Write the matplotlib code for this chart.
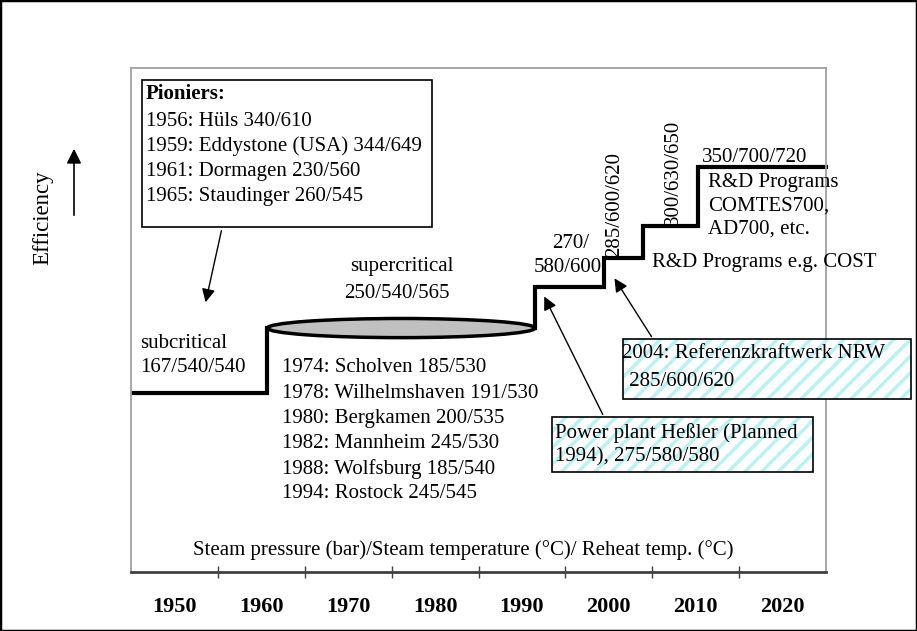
import matplotlib.pyplot as plt
from matplotlib.patches import Ellipse, Rectangle

plt.rcParams['font.family'] = ['Liberation Serif', 'DejaVu Serif']
plt.rcParams['hatch.linewidth'] = 2.5

# Stufen der Wirkungsgrad-Kurve (Jahr des Sprungs, Niveau in willk. Einheiten)
step_years = [1945, 1960.7, 1991.5, 1999.4, 2003.9, 2010.3, 2025]
levels = [35.5, 48.4, 56.5, 62.3, 68.7, 80.4]

decade_labels = [1950, 1960, 1970, 1980, 1990, 2000, 2010, 2020]
tick_years = [1955, 1965, 1975, 1985, 1995, 2005, 2015]

pioniers = ['1956: Hüls 340/610',
            '1959: Eddystone (USA) 344/649',
            '1961: Dormagen 230/560',
            '1965: Staudinger 260/545']
supercritical_plants = ['1974: Scholven 185/530',
                        '1978: Wilhelmshaven 191/530',
                        '1980: Bergkamen 200/535',
                        '1982: Mannheim 245/530',
                        '1988: Wolfsburg 185/540',
                        '1994: Rostock 245/545']

W, H = 917, 631
FS = 15


def px(x, y):
    # Pixel (von oben links) -> Figure-Koordinaten
    return x / W, 1 - y / H


fig = plt.figure(figsize=(W / 100, H / 100), dpi=100)
ax = fig.add_axes([131 / W, 1 - 572 / H, (826 - 131) / W, (572 - 68) / H])
ax.set_xlim(step_years[0], step_years[-1])
ax.set_ylim(0, 100)

# subkritischer Teil
ax.plot([step_years[0], step_years[1], step_years[1]],
        [levels[0], levels[0], levels[1]], color='black', lw=3, solid_joinstyle='miter')

# überkritischer Bereich als Ellipse
ax.add_patch(Ellipse(((step_years[1] + step_years[2]) / 2, levels[1]),
                     step_years[2] - step_years[1], 3.8,
                     facecolor='#c0c0c0', edgecolor='black', lw=2.5, zorder=3))

# Stufen ab 1991
xs, ys = [step_years[2]], [levels[1]]
for i in range(2, len(levels)):
    xs += [step_years[i], step_years[i + 1]]
    ys += [levels[i], levels[i]]
ax.plot(xs, ys, color='black', lw=3, solid_joinstyle='miter', clip_on=False)

# Achsen / Rahmen
for s in ['top', 'left', 'right']:
    ax.spines[s].set_color('#a0a0a0')
    ax.spines[s].set_linewidth(1.3)
ax.spines['bottom'].set_color('#404040')
ax.spines['bottom'].set_linewidth(2)
ax.set_yticks([])
ax.set_xticks(tick_years)
ax.set_xticklabels([])
ax.tick_params(axis='x', which='major', direction='inout', length=8, width=1, color='#404040')
ax.set_xticks(decade_labels, minor=True)
ax.set_xticklabels([str(d) for d in decade_labels], minor=True, fontsize=16, fontweight='bold')
ax.tick_params(axis='x', which='minor', length=0, pad=18)

# äußerer Rahmen
fig.patches.append(Rectangle((0, 0), 1, 1, transform=fig.transFigure, fill=False,
                             edgecolor='black', lw=2.5))

# Efficiency-Pfeil
fig.text(*px(43, 218), 'Efficiency', rotation=90, ha='center', va='center', fontsize=16.5)
ax.annotate('', xy=px(74, 146), xytext=px(74, 218), xycoords='figure fraction',
            textcoords='figure fraction',
            arrowprops=dict(arrowstyle='-|>', mutation_scale=22, lw=1.2, color='black'))

# Pioniere-Kasten
x0, y0 = px(142, 227)
x1, y1 = px(432, 80)
fig.patches.append(Rectangle((x0, y0), x1 - x0, y1 - y0, transform=fig.transFigure,
                             facecolor='white', edgecolor='black', lw=1.2))
fig.text(*px(146, 94), 'Pioniers:', fontsize=FS, fontweight='bold', va='center')
for i, t in enumerate(pioniers):
    fig.text(*px(146, 121 + 25 * i), t, fontsize=FS, va='center')
ax.annotate('', xy=px(205, 305), xytext=px(222, 228), xycoords='figure fraction',
            textcoords='figure fraction',
            arrowprops=dict(arrowstyle='-|>', mutation_scale=20, lw=1, color='black'))

# Beschriftungen der Stufen
fig.text(*px(140, 343), 'subcritical', fontsize=FS, va='center')
fig.text(*px(140, 368), '167/540/540', fontsize=FS, va='center')
fig.text(*px(402, 267), 'supercritical', fontsize=FS, ha='center', va='center')
fig.text(*px(397, 293), '250/540/565', fontsize=FS, ha='center', va='center')
for i, t in enumerate(supercritical_plants):
    fig.text(*px(282, 368 + 25.2 * i), t, fontsize=FS, va='center')

fig.text(*px(552, 244), '270/', fontsize=FS, va='center')
fig.text(*px(534, 268), '580/600', fontsize=FS, va='center')
fig.text(*px(615, 257), '285/600/620', fontsize=FS, rotation=90, ha='center', va='bottom')
fig.text(*px(673, 225), '300/630/650', fontsize=FS, rotation=90, ha='center', va='bottom')
fig.text(*px(702, 157), '350/700/720', fontsize=FS, va='center')
fig.text(*px(708, 183), 'R&D Programs', fontsize=FS, va='center')
fig.text(*px(708, 206), 'COMTES700,', fontsize=FS, va='center')
fig.text(*px(708, 229), 'AD700, etc.', fontsize=FS, va='center')
fig.text(*px(652, 262), 'R&D Programs e.g. COST', fontsize=FS, va='center')


def hatched_box(xa, ya, xb, yb):
    p0 = px(xa, yb)
    p1 = px(xb, ya)
    w, h = p1[0] - p0[0], p1[1] - p0[1]
    fig.patches.append(Rectangle(p0, w, h, transform=fig.transFigure, facecolor='white',
                                 edgecolor='#b8f2f2', hatch='//', lw=0))
    fig.patches.append(Rectangle(p0, w, h, transform=fig.transFigure, fill=False,
                                 edgecolor='black', lw=1.2))


hatched_box(623, 339, 911, 399)
fig.text(*px(622, 353), '2004: Referenzkraftwerk NRW', fontsize=FS, va='center')
fig.text(*px(624, 381), ' 285/600/620', fontsize=FS, va='center')
ax.annotate('', xy=px(613, 276), xytext=px(653, 339), xycoords='figure fraction',
            textcoords='figure fraction',
            arrowprops=dict(arrowstyle='-|>', mutation_scale=20, lw=1, color='black'))

hatched_box(552, 417, 813, 472)
fig.text(*px(555, 433), 'Power plant Heßler (Planned', fontsize=FS, va='center')
fig.text(*px(555, 457), '1994), 275/580/580', fontsize=FS, va='center')
ax.annotate('', xy=px(543, 294), xytext=px(604, 417), xycoords='figure fraction',
            textcoords='figure fraction',
            arrowprops=dict(arrowstyle='-|>', mutation_scale=20, lw=1, color='black'))

fig.text(*px(463, 550), 'Steam pressure (bar)/Steam temperature (°C)/ Reheat temp. (°C)',
         fontsize=FS, ha='center', va='center')

fig.savefig('out.png', dpi=100)
